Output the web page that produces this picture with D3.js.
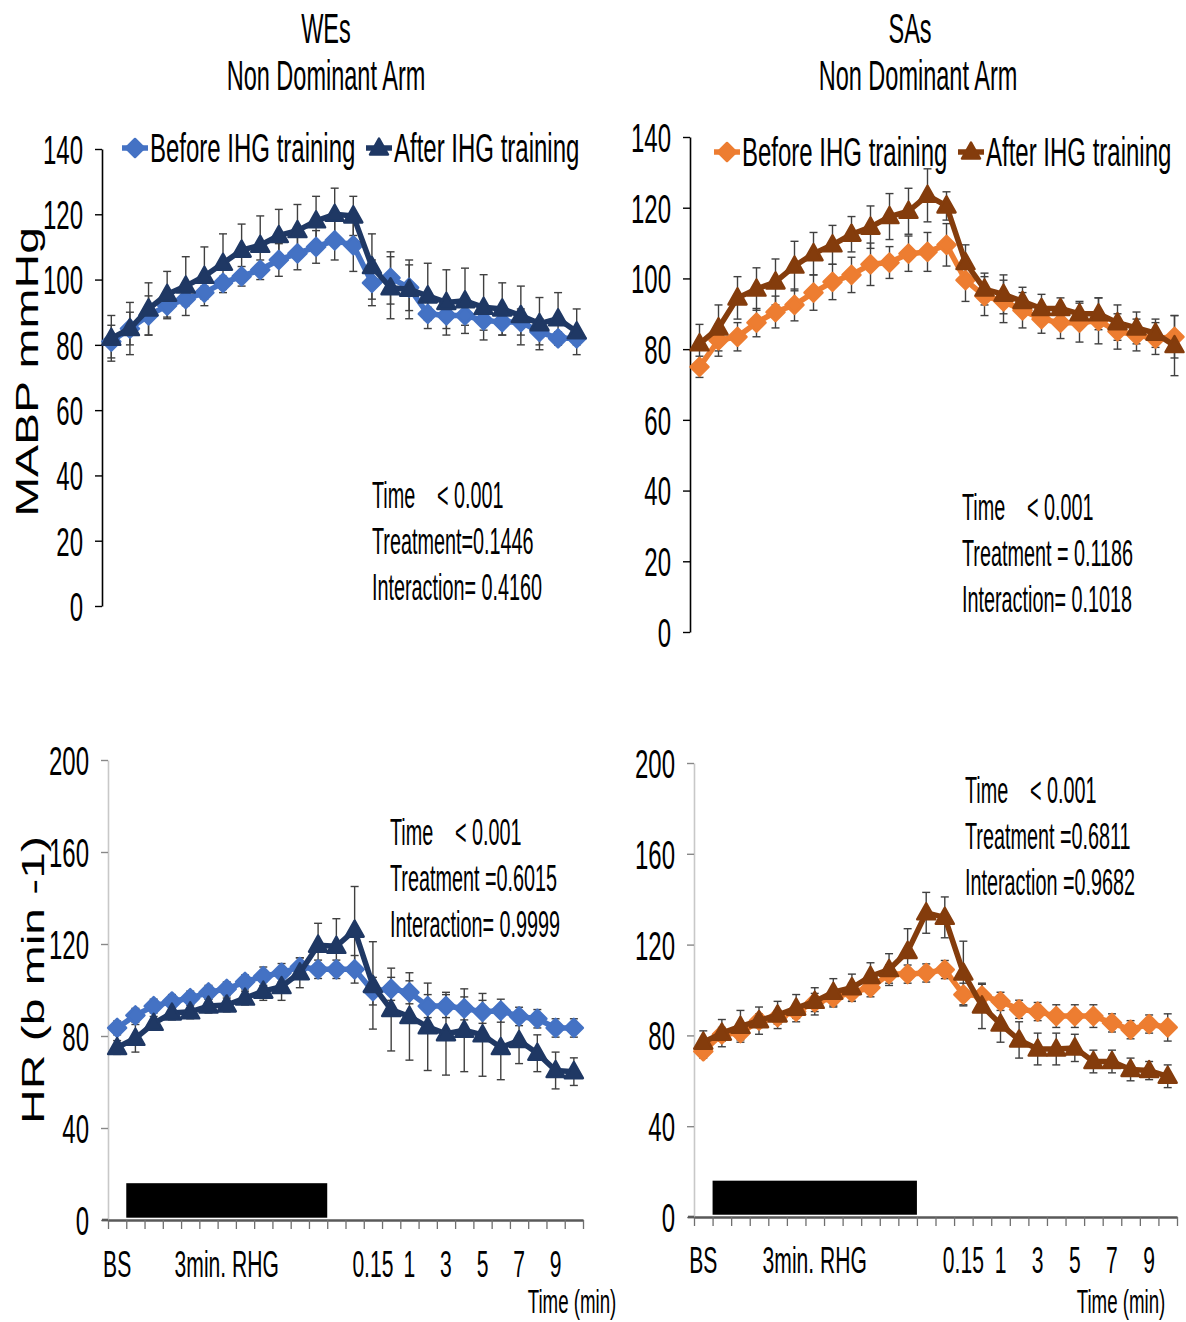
<!DOCTYPE html>
<html lang="en">
<head>
<meta charset="UTF-8">
<title>MABP and HR before / after IHG training</title>
<style>
  body { margin: 0; background: #ffffff; }
  svg { display: block; background: #ffffff; font-family: "Liberation Sans", Arial, sans-serif; }
</style>
<script src="https://d3js.org/d3.v7.min.js"></script>
</head>
<body>
<svg width="1186" height="1322"></svg>
<script>
// categories along the time axis (baseline, 3 min RHG, recovery)
const timeLabels = ["BS", "", "", "", "", "", "3min. RHG", "", "", "", "", "", "", "",
                    "0.15", "", "1", "", "3", "", "5", "", "7", "", "9", ""];
const seriesNames = ["Before IHG training", "After IHG training"];
const mabpTicks = [0, 20, 40, 60, 80, 100, 120, 140];
const hrTicks = [0, 40, 80, 120, 160, 200];
const rhgStartEnd = [1, 12];      // band boundaries covered by the RHG bar
const rhgBarLevel = [1, 16];      // bar drawn between these HR values

// WEs, MABP (mmHg)
const wesMabpBefore = [81, 85, 89, 92, 94, 96, 99, 101, 103, 106, 108, 110, 112, 110.5, 99, 100.5, 97.5, 89.5, 89, 89, 87.5, 87, 87, 84, 82, 82];
const wesMabpBeforeErr = [5, 5, 6, 4, 2, 2, 2, 3, 3, 5, 5, 5, 6, 8, 7, 8, 7, 2, 4, 3, 3, 4, 4, 4, 2, 2];
const wesMabpAfter = [82, 85, 91, 95.5, 98, 101, 105, 109, 110.5, 113.5, 115, 118, 120, 119.5, 104, 97.5, 97, 95, 93, 93.5, 91.5, 91, 89, 86.5, 88, 84];
const wesMabpAfterErr = [7, 8, 8, 7, 9, 9, 9, 8, 9, 8, 8, 7.5, 8, 6, 10, 9.5, 9, 10, 10, 10, 10, 8, 9, 8, 8, 7];
const wesMabpStats = ["Time", "< 0.001", "Treatment=0.1446", "Interaction= 0.4160"];

// SAs, MABP (mmHg)
const sasMabpBefore = [75, 82.5, 83.5, 87.5, 90.5, 92.5, 96, 99, 101, 104, 104.5, 107, 107.5, 109.5, 99.5, 95, 93.5, 91, 88.5, 87.5, 87.5, 88, 85, 84, 83, 83.5];
const sasMabpBeforeErr = [3, 4.5, 4, 4, 4.5, 4.5, 5, 5, 5, 6, 4.5, 5, 5.5, 6, 6, 5.5, 6, 5, 4, 4.5, 5.5, 6.5, 5, 4.5, 4.5, 6];
const sasMabpAfter = [81.5, 86, 94.5, 97, 99, 103.5, 107, 109.5, 112.5, 114.5, 117.5, 119, 123.5, 120.5, 104.5, 97, 95.5, 93.5, 91.5, 91.5, 90, 90, 87.5, 86, 84.5, 81];
const sasMabpAfterErr = [5.5, 6.5, 6, 6, 6.5, 7, 6, 5.5, 5, 6, 6.5, 6.5, 7.5, 4, 5, 4.5, 5.5, 4, 4, 3, 3.5, 4.5, 5, 4.5, 4, 8.5];
const sasMabpStats = ["Time", "< 0.001", "Treatment = 0.1186", "Interaction= 0.1018"];

// WEs, HR (b/min)
const wesHrBefore = [83.5, 89, 93, 95, 96.5, 99, 100.5, 103.5, 106, 107.5, 110, 109, 109, 109, 99.5, 100.5, 99, 93, 93, 92, 90.5, 91, 88.5, 87.5, 83.5, 83.5];
const wesHrBeforeErr = [3, 3, 3, 3, 3, 3, 3, 3, 4, 4, 4, 4, 4, 6, 6, 5, 5, 5, 5, 5, 5, 5, 4, 4, 4, 4];
const wesHrAfter = [75, 79, 85.5, 90, 90.5, 93, 93.5, 96.5, 99.5, 101.5, 107.5, 119.5, 119, 126, 102, 91.5, 88.5, 84, 81, 82.5, 80.5, 75, 78, 72.5, 65, 64.5];
const wesHrAfterErr = [3, 6, 3, 3, 3, 3, 3, 3, 4, 6, 6.5, 9.5, 12, 19, 19, 18, 19, 19, 18, 18, 18, 14, 10, 8, 8, 6];
const wesHrStats = ["Time", "< 0.001", "Treatment =0.6015", "Interaction= 0.9999"];

// SAs, HR (b/min)
const sasHrBefore = [73, 80.5, 81, 86.5, 88, 90.5, 94.5, 96.5, 99, 101, 107, 107, 107.5, 109, 98, 97.5, 95, 91.5, 90.5, 88.5, 88.5, 88.5, 85.5, 82.5, 85, 83.5];
const sasHrBeforeErr = [3, 3, 3, 3, 3, 3, 4, 4, 4, 4, 4, 4, 4, 4, 5, 5, 4, 4, 4, 5, 5, 5, 4, 4, 4, 6];
const sasHrAfter = [77, 81, 84, 86.5, 89, 92, 95, 99, 101, 106, 109, 117, 134, 132, 107.5, 93, 85, 78, 74, 74, 74.5, 68.5, 68.5, 65, 64.5, 62];
const sasHrAfterErr = [5, 6, 7, 6, 6, 6, 6, 6, 6, 6, 7, 10, 9, 9, 14, 10, 8, 8, 7, 7, 6, 5, 5, 5, 4, 5];
const sasHrStats = ["Time", "< 0.001", "Treatment =0.6811", "Interaction =0.9682"];

const blues = ["#4472c4", "#1f3864"];
const oranges = ["#ed7d31", "#843c0c"];

const panels = [
  { kind: "top", title: ["WEs", "Non Dominant Arm"], titleX: [326, 326],
    x0: 102, x1: 586, y0: 606, y1: 149, domain: [0, 140], ticks: mabpTicks,
    series: [[wesMabpBefore, wesMabpBeforeErr], [wesMabpAfter, wesMabpAfterErr]], colors: blues,
    stats: wesMabpStats, statsX: 372, statsY: 508, legendX: [122, 366], legendY: 148,
    yTitle: "MABP mmHg", yTitleX: 27, yTitleY: 372 },
  { kind: "top", title: ["SAs", "Non Dominant Arm"], titleX: [910, 918],
    x0: 690, x1: 1184, y0: 632, y1: 137, domain: [0, 140], ticks: mabpTicks,
    series: [[sasMabpBefore, sasMabpBeforeErr], [sasMabpAfter, sasMabpAfterErr]], colors: oranges,
    stats: sasMabpStats, statsX: 962, statsY: 520, legendX: [714, 958], legendY: 152 },
  { kind: "bottom",
    x0: 108, x1: 583, y0: 1220, y1: 760, domain: [0, 200], ticks: hrTicks,
    series: [[wesHrBefore, wesHrBeforeErr], [wesHrAfter, wesHrAfterErr]], colors: blues,
    stats: wesHrStats, statsX: 390, statsY: 845, labelY: 1264, timeX: 572, timeY: 1313,
    yTitle: "HR (b min -1)", yTitleX: 33, yTitleY: 980 },
  { kind: "bottom",
    x0: 694, x1: 1177, y0: 1217, y1: 763, domain: [0, 200], ticks: hrTicks,
    series: [[sasHrBefore, sasHrBeforeErr], [sasHrAfter, sasHrAfterErr]], colors: oranges,
    stats: sasHrStats, statsX: 965, statsY: 803, labelY: 1260, timeX: 1121, timeY: 1313 }
];

const svg = d3.select("svg");

// condensed text: normal font squeezed horizontally
function label(parent, x, y, s, size, sx, anchor) {
  return parent.append("text")
    .attr("transform", `translate(${x},${y}) scale(${sx},1)`)
    .attr("font-size", size)
    .attr("text-anchor", anchor || "start")
    .attr("fill", "#000")
    .text(s);
}

function marker(sel, idx, color) {
  const path = idx === 0 ? "M0,-9L9,0L0,9L-9,0Z" : "M0,-9.5L9,6.5L-9,6.5Z";
  sel.append("path")
    .attr("d", path)
    .attr("fill", color)
    .attr("stroke", color)
    .attr("stroke-width", 2.5)
    .attr("stroke-linejoin", "round");
}

panels.forEach(p => {
  const g = svg.append("g");
  const n = timeLabels.length;
  const x = d3.scaleBand().domain(d3.range(n)).range([p.x0, p.x1]);
  const xb = d3.scaleLinear().domain([0, n]).range([p.x0, p.x1]);
  const y = d3.scaleLinear().domain(p.domain).range([p.y0, p.y1]);
  const cx = i => x(i) + x.bandwidth() / 2;
  const top = p.kind === "top";

  // y axis
  const ya = g.append("g")
    .attr("transform", `translate(${p.x0},0)`)
    .call(d3.axisLeft(y).tickValues(p.ticks).tickSize(7).tickSizeOuter(0));
  ya.attr("font-family", null).attr("font-size", 40);
  ya.select(".domain").attr("stroke", top ? "#000" : "#c8c8c8").attr("stroke-width", 1.6);
  ya.selectAll(".tick line").attr("stroke", top ? "#000" : "#888").attr("stroke-width", 1.4);
  ya.selectAll(".tick text")
    .attr("x", null).attr("dy", "0.36em").attr("fill", "#000")
    .attr("transform", "translate(-19,0) scale(0.6,1)");

  if (!top) {
    // RHG period bar
    g.append("rect")
      .attr("x", xb(rhgStartEnd[0]))
      .attr("width", xb(rhgStartEnd[1]) - xb(rhgStartEnd[0]))
      .attr("y", y(rhgBarLevel[1]))
      .attr("height", y(rhgBarLevel[0]) - y(rhgBarLevel[1]))
      .attr("fill", "#000");

    // x axis with ticks at band boundaries
    const xa = g.append("g")
      .attr("transform", `translate(0,${p.y0})`)
      .call(d3.axisBottom(xb).tickValues(d3.range(n + 1)).tickFormat("").tickSize(9).tickSizeOuter(0));
    xa.select(".domain").attr("stroke", "#595959").attr("stroke-width", 2.6);
    xa.selectAll(".tick line").attr("stroke", "#6f6f6f").attr("stroke-width", 1.3);
    g.append("line")
      .attr("x1", p.x0 - 6).attr("x2", p.x0)
      .attr("y1", p.y0).attr("y2", p.y0)
      .attr("stroke", "#595959").attr("stroke-width", 2.6);

    // category labels
    const xl = g.append("g")
      .attr("transform", `translate(0,${p.labelY})`)
      .call(d3.axisBottom(x).tickSize(0).tickFormat(i => timeLabels[i]));
    xl.attr("font-family", null).attr("font-size", 37);
    xl.select(".domain").remove();
    xl.selectAll(".tick text")
      .attr("y", null).attr("dy", "0.36em").attr("fill", "#000")
      .attr("transform", "scale(0.57,1)");

    label(g, p.timeX, p.timeY, "Time (min)", 34, 0.55, "middle");
  }

  // error bars
  p.series.forEach(([vals, errs]) => {
    const eb = g.append("g").attr("stroke", "#404040").attr("stroke-width", 1.4);
    vals.forEach((v, i) => {
      const e = errs[i];
      eb.append("line").attr("x1", cx(i)).attr("x2", cx(i)).attr("y1", y(v - e)).attr("y2", y(v + e));
      [v - e, v + e].forEach(t => {
        eb.append("line").attr("x1", cx(i) - 4).attr("x2", cx(i) + 4).attr("y1", y(t)).attr("y2", y(t));
      });
    });
  });

  // lines and markers
  const line = d3.line().x((d, i) => cx(i)).y(d => y(d));
  p.series.forEach(([vals], si) => {
    const color = p.colors[si];
    g.append("path")
      .datum(vals)
      .attr("d", line)
      .attr("fill", "none")
      .attr("stroke", color)
      .attr("stroke-width", 5.5)
      .attr("stroke-linejoin", "round");
    vals.forEach((v, i) => {
      marker(g.append("g").attr("transform", `translate(${cx(i)},${y(v)})`), si, color);
    });
  });

  // statistics
  const st = p.stats;
  label(g, p.statsX, p.statsY, st[0], 36, 0.55);
  label(g, p.statsX + 65, p.statsY, st[1], 36, 0.55);
  label(g, p.statsX, p.statsY + 46, st[2], 36, 0.55);
  label(g, p.statsX, p.statsY + 92, st[3], 36, 0.55);

  if (top) {
    // titles
    label(g, p.titleX[0], 43, p.title[0], 42, 0.56, "middle");
    label(g, p.titleX[1], 90, p.title[1], 42, 0.56, "middle");

    // legend
    seriesNames.forEach((name, si) => {
      const lx = p.legendX[si];
      const color = p.colors[si];
      g.append("line")
        .attr("x1", lx).attr("x2", lx + 26)
        .attr("y1", p.legendY).attr("y2", p.legendY)
        .attr("stroke", color).attr("stroke-width", 5.5);
      marker(g.append("g").attr("transform", `translate(${lx + 13},${p.legendY})`), si, color);
      label(g, lx + 28, p.legendY + 14, name, 40, 0.6);
    });
  }

  if (p.yTitle) {
    g.append("text")
      .attr("transform", `translate(${p.yTitleX},${p.yTitleY}) scale(0.64,1) rotate(-90)`)
      .attr("font-size", 48)
      .attr("text-anchor", "middle")
      .attr("dy", "0.36em")
      .attr("fill", "#000")
      .text(p.yTitle);
  }
});
</script>
</body>
</html>
